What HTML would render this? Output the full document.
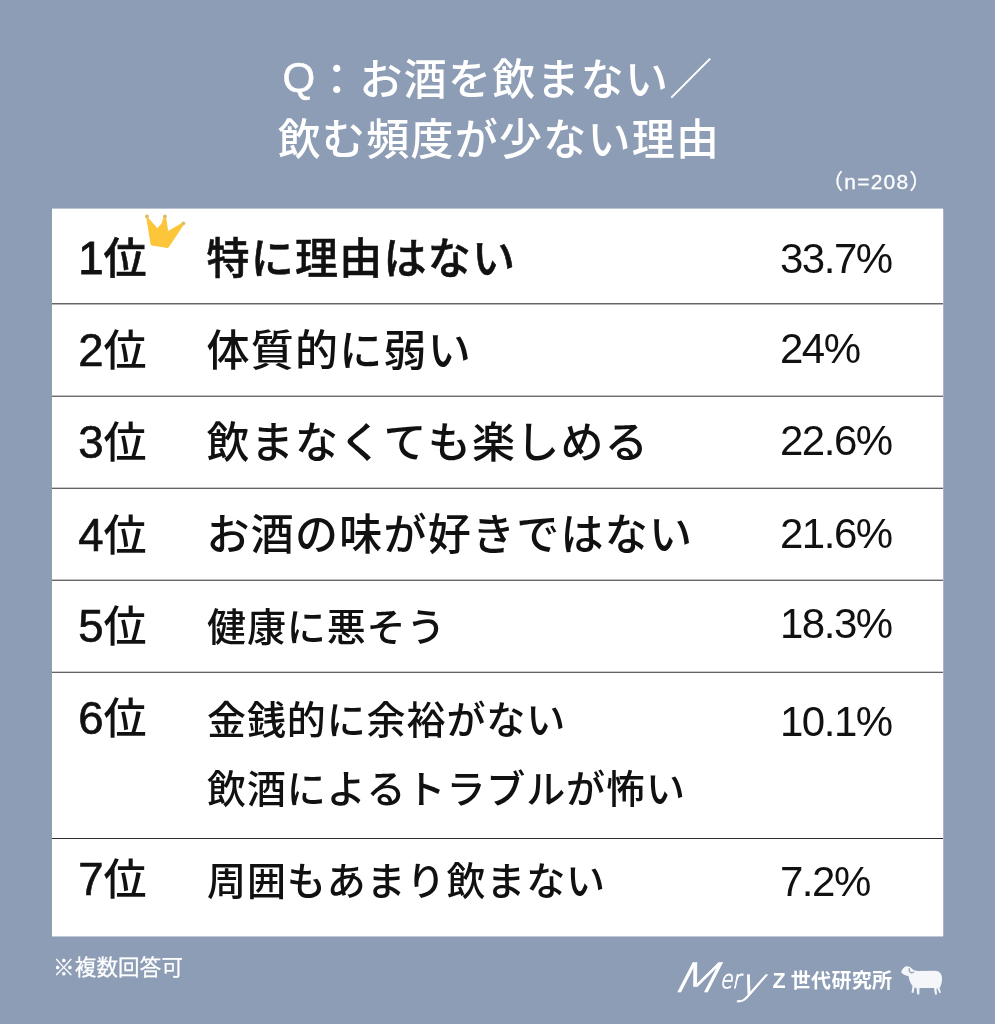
<!DOCTYPE html>
<html lang="ja">
<head>
<meta charset="utf-8">
<title>お酒を飲まない／飲む頻度が少ない理由</title>
<style>
html,body{margin:0;padding:0;}
html{background:#8c9db5;}
body{width:995px;height:1024px;background:#8c9db5;position:relative;overflow:hidden;
 font-family:"Liberation Sans","Noto Sans CJK JP",sans-serif;color:#111;}
.abs{position:absolute;white-space:nowrap;line-height:1;font-kerning:none;}
.title{left:0;width:995px;text-align:center;color:#fff;font-size:43px;font-weight:500;letter-spacing:1.25px;}
#t1{top:59px;}
#t2{top:119px;text-indent:3px;}
.q{position:relative;top:-3px;left:1px;font-size:42px;font-weight:400;-webkit-text-stroke:0.5px #fff;}
#n{color:#fff;font-size:21px;left:822px;top:171px;letter-spacing:1.25px;-webkit-text-stroke:0.3px #fff;}
#panel{position:absolute;left:52px;top:209px;width:891px;height:727px;background:#fff;}
.edge{position:absolute;background:#fff;}
.line{position:absolute;left:52px;width:891px;height:1px;}
.rank{left:79px;font-size:43px;font-weight:500;line-height:44px;}
.d{font-size:45.5px;-webkit-text-stroke:0.65px #111;margin-left:-0.8px;position:relative;top:0px;}
.big{left:206.5px;font-size:43px;font-weight:500;letter-spacing:1.25px;}
.sm{left:207px;font-size:39px;font-weight:500;letter-spacing:0.9px;}
.pct{left:780px;font-size:42px;font-weight:400;letter-spacing:-1.5px;}
#note{color:#fff;font-size:21.5px;left:53px;top:958px;letter-spacing:0.2px;-webkit-text-stroke:0.25px #fff;}
#brand{color:#fff;font-size:20px;font-weight:700;left:772.5px;top:970.5px;letter-spacing:0.35px;word-spacing:-1.2px;}
#brand .z{font-size:21.5px;}
#mery{color:#fff;font-family:"DejaVu Sans Light","DejaVu Sans",sans-serif;font-weight:200;font-style:italic;left:676px;top:950px;width:100px;height:60px;}
#mery{line-height:0;font-size:0;}
#mery span{display:inline-block;vertical-align:top;width:0;height:0;overflow:visible;position:relative;line-height:1;white-space:nowrap;-webkit-text-stroke:0.65px #fff;}
#mery .m{font-size:40.5px;left:-8px;top:8px;transform:skewX(-10deg) scaleX(1.34);transform-origin:0 40.5px;}
#mery .e{font-size:25px;left:43.5px;top:16.5px;transform:scaleX(0.8);transform-origin:0 0;-webkit-text-stroke:0.85px #fff;}
#mery .y{font-size:37px;left:60px;top:14px;transform:skewX(-8deg) scaleX(1.12);transform-origin:0 37px;}
</style>
</head>
<body>
<div class="abs title" id="t1"><span class="q">Q</span>：お酒を飲まない／</div>
<div class="abs title" id="t2">飲む頻度が少ない理由</div>
<div class="abs" id="n">（n=208）</div>
<div id="panel"></div>
<div class="edge" style="left:52px;top:208px;width:891px;height:1px;opacity:.4"></div><div class="edge" style="left:52px;top:936px;width:891px;height:1px;opacity:.45"></div><div class="edge" style="left:943px;top:209px;width:1px;height:727px;opacity:.25"></div>
<div class="line" style="top:303px;background:#666"></div><div class="line" style="top:304px;background:#b4b4b4"></div>
<div class="line" style="top:395px;background:#c0c0c0"></div><div class="line" style="top:396px;background:#6c6c6c"></div>
<div class="line" style="top:487px;background:#c8c8c8"></div><div class="line" style="top:488px;background:#626262"></div>
<div class="line" style="top:579px;background:#c0c0c0"></div><div class="line" style="top:580px;background:#666"></div>
<div class="line" style="top:671px;background:#ccc"></div><div class="line" style="top:672px;background:#626262"></div>
<div class="line" style="top:838px;background:#2c2c2c"></div>

<svg class="abs" style="left:138px;top:206px" width="56" height="48" viewBox="138 206 56 48">
<path d="M146.6 216.6 L157.4 228.8 Q162.8 224.5 164.4 216.6 L165.5 216.6 L167.7 231.7 L182.9 222.9 L183.8 223.9 L168 247.6 L151.2 244.9 Z" fill="#fcc53a" stroke="#fcc53a" stroke-width="1" stroke-linejoin="round"/>
<circle cx="147" cy="216.3" r="1.9" fill="#d9bf5c"/><circle cx="164.9" cy="216.4" r="1.9" fill="#d9bf5c"/><circle cx="183.4" cy="223.3" r="1.9" fill="#d9bf5c"/>
</svg>
<div class="abs rank" style="top:236.8px;-webkit-text-stroke:0.55px #111"><span class="d" style="-webkit-text-stroke:0.9px #111">1</span>位</div>
<div class="abs big" style="top:238px;-webkit-text-stroke:0.55px #111">特に理由はない</div>
<div class="abs pct" style="top:237.5px">33.7%</div>

<div class="abs rank" style="top:329.2px"><span class="d">2</span>位</div>
<div class="abs big" style="top:330px">体質的に弱い</div>
<div class="abs pct" style="top:328px">24%</div>

<div class="abs rank" style="top:420.8px"><span class="d">3</span>位</div>
<div class="abs big" style="top:422px">飲まなくても楽しめる</div>
<div class="abs pct" style="top:420px">22.6%</div>

<div class="abs rank" style="top:514px"><span class="d">4</span>位</div>
<div class="abs big" style="top:514px">お酒の味が好きではない</div>
<div class="abs pct" style="top:512.5px">21.6%</div>

<div class="abs rank" style="top:604.6px"><span class="d">5</span>位</div>
<div class="abs sm" style="top:608px">健康に悪そう</div>
<div class="abs pct" style="top:602.5px">18.3%</div>

<div class="abs rank" style="top:697px"><span class="d">6</span>位</div>
<div class="abs sm" style="top:701px">金銭的に余裕がない</div>
<div class="abs sm" style="top:770px">飲酒によるトラブルが怖い</div>
<div class="abs pct" style="top:701px">10.1%</div>

<div class="abs rank" style="top:858.4px"><span class="d">7</span>位</div>
<div class="abs sm" style="top:862px">周囲もあまり飲まない</div>
<div class="abs pct" style="top:860.5px">7.2%</div>

<div class="abs" id="note">※複数回答可</div>
<div class="abs" id="mery"><span class="m">M</span><span class="e">er</span><span class="y">y</span></div>
<div class="abs" id="brand"><span class="z">Z</span> 世代研究所</div>
<svg class="abs" style="left:895px;top:958px" width="56" height="42" viewBox="895 958 56 42">
<path d="M901.2 972.3C902 969 904.5 966.3 907 966.3C909 966.3 911 967.5 912.5 969.3C914 970.5 916 971 918 971L935 970.8C939.5 970.8 942 974 942 978.5C942 983 941 986 939.5 988L941 992.8L939.3 993L937.5 988.5L936.5 988.5L937 994.4L935 994.6L934 988L919.5 988L919.3 994.6L917.3 994.6L916.5 988L914.5 987.5L913.5 993L911.5 992.5L912.5 986C910 983 909 979 908.5 976C906 976 903 975 901.2 972.3Z" fill="#f4f6f9"/>
<path d="M909.2 968.2C908.6 971.8 911.2 974.4 914 971.6" fill="none" stroke="#8c9db5" stroke-width="1.2"/>
</svg>
</body>
</html>
